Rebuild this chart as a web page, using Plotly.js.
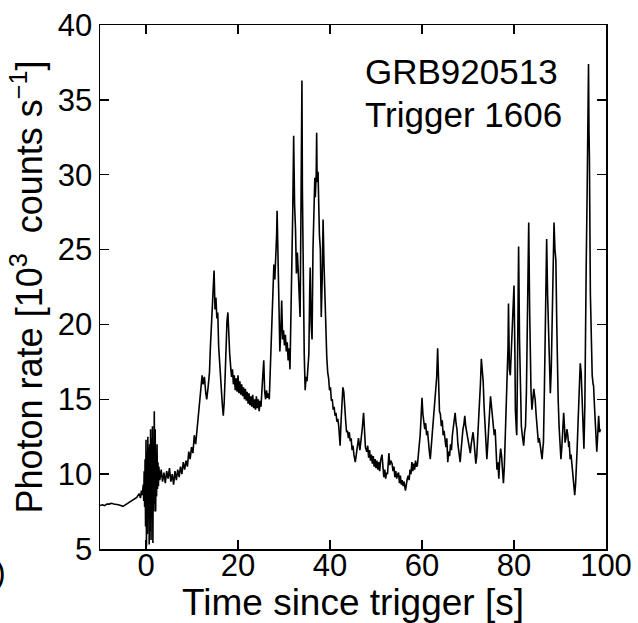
<!DOCTYPE html>
<html>
<head>
<meta charset="utf-8">
<script src="https://cdn.plot.ly/plotly-3.0.1.min.js"></script>
<style>html,body{margin:0;padding:0;background:#fff;}#chart{width:638px;height:623px;}</style>
</head>
<body>
<div id="chart"></div>
<script>
// Time since trigger [s]
const tSec = [
-10,-9.5,-9,-8.5,-8,-7.5,-7,-6.5,-6,-5.5,-5,-4.5,-4,-3.5,-3,-2.5,-2,-1.5,-1.2,-1,-0.8,
-0.6,-0.5,-0.4,-0.3,-0.2,-0.1,0,0.1,0.2,0.3,0.4,0.5,0.6,0.7,0.8,0.9,1.0,1.1,1.2,1.3,1.4,1.5,1.6,1.7,1.8,1.9,2.0,2.1,2.2,2.3,2.4,2.5,2.6,2.7,2.8,
3.0,3.3,3.6,3.9,4.2,4.5,4.8,5.1,5.4,5.7,6.0,6.3,6.6,6.9,7.2,7.5,7.8,8.1,8.4,8.7,9.0,9.3,9.6,9.9,10.2,10.5,10.8,11.1,11.4,11.7,12.0,12.2,12.4,12.7,13.0,13.2,13.5,13.8,
14.0,14.2,14.4,14.6,14.8,15.0,15.2,15.4,15.6,15.8,16.0,16.2,16.4,16.6,16.8,17.0,17.2,17.4,17.6,17.8,18.0,18.2,18.4,18.6,18.8,19.0,19.2,19.4,19.6,19.8,
20.0,20.2,20.4,20.6,20.8,21.0,21.2,21.4,21.6,21.8,22.0,22.2,22.4,22.6,22.8,23.0,23.2,23.4,23.6,23.8,24.0,24.2,24.4,24.6,24.8,25.0,25.2,25.4,25.6,25.8,
26.0,26.2,26.4,26.6,26.8,27.0,27.2,27.4,27.6,27.8,28.0,28.2,28.4,28.5,28.7,28.9,29.1,29.3,29.5,29.7,29.9,30.1,30.3,30.5,30.7,30.9,31.1,31.3,31.5,31.7,31.9,
32.1,32.3,32.5,32.7,32.9,33.1,33.3,33.5,33.7,33.9,34.0,34.2,34.4,34.6,34.8,35.0,35.2,35.4,35.6,35.7,35.9,36.1,36.3,36.5,36.7,36.8,37.0,37.1,37.2,37.4,37.5,
37.7,37.9,38.1,38.3,38.5,38.7,38.9,39.1,39.3,39.5,39.7,39.9,40.1,40.3,40.5,40.7,40.9,41.1,41.3,41.5,41.7,41.9,42.1,42.2,42.4,42.6,42.8,43.0,43.2,43.4,43.6,43.8,
44.0,44.2,44.4,44.6,44.8,45.0,45.2,45.5,45.8,46.0,46.2,46.5,46.8,47.0,47.3,47.5,47.7,48.0,48.2,48.4,48.6,48.8,49.0,49.2,49.4,49.6,49.8,
50.0,50.2,50.4,50.6,50.8,51.0,51.3,51.5,51.7,51.9,52.1,52.3,52.5,52.7,52.8,53.0,53.2,53.5,53.7,53.9,54.1,54.3,54.5,54.7,54.9,55.1,55.3,55.5,55.7,55.9,56.1,56.4,56.6,56.8,
57.0,57.2,57.4,57.6,57.8,58.0,58.2,58.4,58.6,58.8,59.0,59.2,59.4,59.6,59.8,60.0,60.2,60.4,60.6,60.8,61.0,61.2,61.4,61.6,61.8,62.0,62.2,62.4,62.6,62.8,
63.0,63.2,63.4,63.6,63.8,64.0,64.2,64.4,64.6,64.8,65.0,65.2,65.4,65.6,65.8,66.0,66.2,66.4,66.6,66.8,67.0,67.2,67.4,67.6,67.8,68.0,68.3,68.5,68.7,68.9,
69.1,69.3,69.5,69.7,69.9,70.1,70.3,70.5,70.7,70.9,71.1,71.3,71.5,71.7,71.9,72.1,72.3,72.5,72.7,72.9,73.1,73.3,73.5,73.7,73.9,74.1,74.3,74.5,74.7,74.9,
75.1,75.3,75.5,75.7,75.9,76.1,76.3,76.5,76.7,76.9,77.1,77.3,77.5,77.7,77.9,78.1,78.3,78.5,78.7,78.8,79.0,79.2,79.4,79.6,79.8,80.0,80.2,80.3,80.5,80.6,80.8,
81.0,81.2,81.4,81.6,81.8,82.0,82.1,82.3,82.5,82.7,82.9,83.1,83.2,83.4,83.5,83.7,83.9,84.1,84.3,84.5,84.6,84.8,85.0,85.2,85.3,85.5,85.7,85.9,86.1,86.3,86.4,86.6,86.8,
87.0,87.1,87.3,87.5,87.7,87.9,88.1,88.2,88.4,88.6,88.7,88.9,89.1,89.3,89.4,89.6,89.8,90.0,90.2,90.4,90.6,90.8,91.0,91.1,91.3,91.5,91.7,91.9,92.0,92.2,92.4,92.6,92.8,
93.0,93.2,93.4,93.5,93.7,93.9,94.1,94.3,94.4,94.6,94.8,95.0,95.2,95.4,95.5,95.7,95.9,96.1,96.2,96.3,96.4,96.6,96.8,97.0,97.2,97.3,97.5,97.7,97.9,98.0,98.2,98.4,98.6,98.8
];
// Photon rate [10^3 counts/s]
const rate = [
7.9,7.95,7.9,8.0,8.0,8.05,8.0,8.0,7.95,7.9,7.85,7.95,8.05,8.15,8.25,8.4,8.45,8.7,8.4,8.9,8.6,
9.3,8.2,10.2,7.8,11.0,6.5,12.3,5.2,11.5,6.0,12.5,7.0,11.8,5.3,12.0,6.2,13.0,5.6,12.4,7.0,13.2,5.4,12.0,7.5,14.2,8.0,13.0,7.5,11.5,8.5,12.0,9.0,10.8,9.2,10.5,
9.6,10.3,9.5,10.1,9.4,10.2,9.7,10.4,9.5,10.0,9.3,10.2,9.6,10.3,9.8,10.5,10.0,10.8,10.3,10.9,10.5,11.5,11.0,11.8,11.4,12.6,12.0,13.0,13.6,14.8,15.5,16.6,16.0,16.5,15.4,15.0,15.8,16.8,
18.5,19.8,20.6,21.5,23.6,21.0,21.8,20.4,20.8,18.5,17.4,16.2,15.2,14.6,13.9,14.8,16.5,18.5,20.2,20.8,19.0,18.0,17.2,16.5,17.0,16.0,16.6,15.6,16.4,15.5,
16.6,15.4,16.2,15.3,16.0,15.2,15.8,15.0,15.7,14.9,15.5,14.7,15.4,14.6,15.2,14.5,15.3,14.4,15.0,14.3,15.2,14.4,15.0,14.2,14.9,14.5,15.6,17.2,17.6,15.5,
15.0,15.6,15.1,15.4,15.0,16.8,18.5,20.5,22.8,24.0,23.0,24.2,26.0,27.6,24.0,22.5,18.2,19.5,21.6,19.0,19.6,18.6,19.3,18.2,18.8,17.6,18.4,17.0,19.5,24.0,27.5,
32.6,28.0,26.4,23.4,24.8,23.5,22.0,20.5,28.0,36.3,29.0,22.0,18.0,15.6,16.5,16.2,17.5,18.0,22.5,23.8,20.0,19.0,25.0,28.2,29.8,28.5,30.0,32.8,29.5,30.2,28.6,
26.0,25.0,20.5,23.0,27.0,24.0,21.5,19.5,17.8,16.8,16.4,15.6,15.8,14.9,15.0,14.3,14.5,13.9,14.1,13.5,13.7,13.2,12.6,11.9,13.5,15.2,15.8,15.5,14.2,13.6,12.8,12.9,
12.4,12.8,12.2,12.4,11.6,11.9,11.3,10.8,11.5,12.0,12.4,11.6,12.3,13.0,14.1,12.8,11.8,11.5,11.9,11.1,11.6,10.9,11.3,10.7,11.2,10.5,11.0,
10.4,10.9,10.3,10.8,10.2,10.9,11.3,10.4,9.8,10.3,9.7,10.1,10.0,10.9,11.4,10.6,10.9,10.7,10.2,10.5,9.8,10.2,9.7,10.0,10.1,9.4,9.9,9.3,9.6,9.2,9.5,8.9,9.4,9.7,
9.9,9.6,10.3,10.0,10.8,10.2,10.7,10.3,10.9,10.5,10.6,11.2,11.9,12.6,13.8,15.1,14.0,13.5,13.0,13.4,12.6,12.9,12.0,11.5,11.0,11.8,12.5,13.1,13.6,14.8,
15.2,16.5,18.4,16.0,14.2,14.0,13.2,13.6,12.6,12.9,12.2,11.8,12.4,10.8,11.5,11.2,12.0,11.6,12.6,13.2,13.6,14.1,13.4,13.0,12.0,11.5,10.8,11.6,12.4,13.0,
13.3,13.9,13.2,12.8,12.3,12.0,11.6,11.4,12.0,12.5,12.8,12.2,11.4,10.7,11.2,12.4,13.0,14.2,16.0,17.7,16.8,16.2,14.5,13.2,12.0,11.0,12.0,13.5,14.2,15.2,
14.5,13.6,13.2,12.6,13.0,11.6,10.3,10.8,9.7,11.0,11.7,11.2,10.5,9.4,10.5,12.6,13.0,15.5,18.5,21.4,17.0,16.6,18.3,19.5,21.2,22.6,18.0,14.3,13.0,12.6,18.5,
25.2,19.0,15.5,13.2,12.6,12.2,11.9,12.8,13.2,15.5,20.5,24.5,26.8,21.0,17.7,15.5,14.3,15.2,15.7,15.2,15.0,14.0,13.2,12.6,12.1,12.4,11.9,11.5,11.0,11.8,12.1,15.5,18.8,
23.0,25.7,22.0,19.9,17.0,15.4,17.0,18.8,22.5,25.5,26.8,25.0,24.3,20.0,16.6,15.0,13.2,12.0,11.0,11.8,13.0,14.1,13.0,12.1,12.4,13.0,12.6,11.8,12.2,11.0,11.3,10.6,10.3,
9.6,8.6,9.4,9.9,11.5,13.2,15.0,16.5,17.4,16.8,15.4,13.5,11.7,14.5,19.2,24.0,28.8,34.0,37.4,33.0,31.0,22.1,18.5,16.6,16.0,15.9,14.5,13.2,12.4,11.5,12.6,13.9,12.8,13.0
];
const xTicks = [0, 20, 40, 60, 80, 100];
const yTicks = [5, 10, 15, 20, 25, 30, 35, 40];
const labelLines = ["GRB920513", "Trigger 1606"];

const FONT = "Liberation Sans, Arial, Helvetica, sans-serif";
const axisCommon = {
  showline: true, linecolor: "#000", linewidth: 1.5, mirror: "ticks",
  ticks: "inside", ticklen: 9, tickwidth: 1.5, tickcolor: "#000",
  showgrid: false, zeroline: false,
  tickfont: {family: FONT, size: 31, color: "#000"}
};
const trace = {
  x: tSec, y: rate, type: "scatter", mode: "lines",
  line: {color: "#000", width: 1.6}, hoverinfo: "skip"
};
const layout = {
  width: 638, height: 623,
  margin: {l: 100, r: 32, t: 25, b: 74},
  paper_bgcolor: "#fff", plot_bgcolor: "#fff",
  showlegend: false,
  xaxis: Object.assign({}, axisCommon, {
    range: [-10, 100], tickvals: xTicks, ticktext: xTicks.map(String),
    ticklabelstandoff: -12,
    title: {text: "Time since trigger [s]", font: {family: FONT, size: 37, color: "#000"}, standoff: 0}
  }),
  yaxis: Object.assign({}, axisCommon, {
    range: [5, 40], tickvals: yTicks, ticktext: yTicks.map(String),
    ticklabelstandoff: 0,
    title: {text: "Photon rate [10<sup>3</sup>&nbsp; counts s<sup>\u22121</sup>]", font: {family: FONT, size: 36, color: "#000"}, standoff: 4}
  }),
  annotations: [
    {xref: "paper", yref: "paper", x: 0.52, y: 0.952, xanchor: "left", yanchor: "top",
     text: labelLines[0], align: "left", showarrow: false,
     font: {family: FONT, size: 35, color: "#000"}},
    {xref: "paper", yref: "paper", x: 0.52, y: 0.870, xanchor: "left", yanchor: "top",
     text: labelLines[1], align: "left", showarrow: false,
     font: {family: FONT, size: 35, color: "#000"}},
    {xref: "paper", yref: "paper", x: -0.182, y: -0.044, xanchor: "right", yanchor: "middle",
     text: ")", showarrow: false, font: {family: FONT, size: 32, color: "#000"}}
  ]
};
Plotly.newPlot("chart", [trace], layout, {displayModeBar: false, staticPlot: true});
</script>
</body>
</html>
